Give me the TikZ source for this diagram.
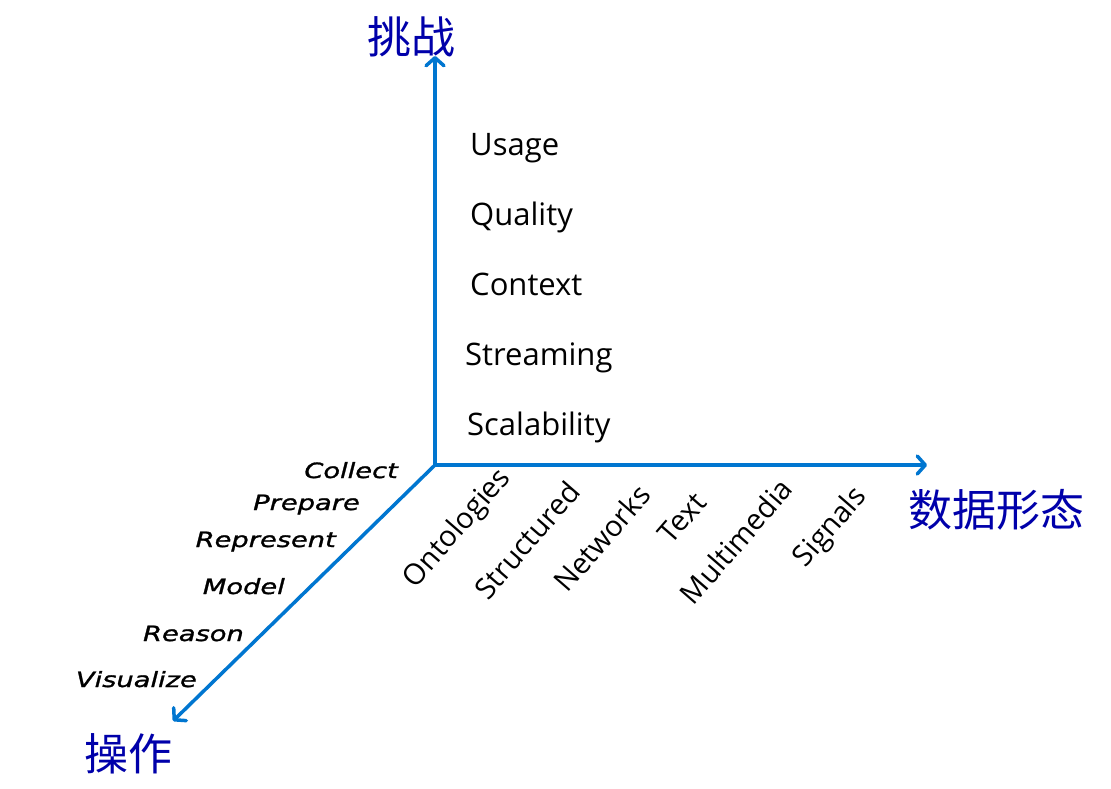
\documentclass[tikz,border=0pt]{standalone}
\usepackage{fontspec}
\setmainfont{Open Sans}
\newfontfamily\cjk{Noto Sans CJK SC}
\newfontfamily\opfont[FakeStretch=1.3,FakeBold=1.3]{DejaVu Sans Oblique}
\usetikzlibrary{arrows.meta}
\definecolor{axisblue}{RGB}{0,118,208}
\definecolor{cjkblue}{RGB}{0,0,170}
\pgfdeclarelayer{bg}
\pgfsetlayers{bg,main}
\tikzset{
  axisline/.style={line width=3.5pt, draw=axisblue, -{Straight Barb[length=8pt,width=18pt,round]}},
  chal/.style={anchor=base west, inner sep=0pt, font=\fontsize{31}{31}\selectfont},
  form/.style={anchor=center, inner sep=0pt, rotate=49, font=\fontsize{29}{29}\selectfont},
  op/.style={anchor=base east, inner sep=0pt, font=\opfont\fontsize{21}{21}\selectfont},
  cjklabel/.style={font=\cjk\fontsize{44}{44}\selectfont, text=cjkblue, inner sep=0pt},
}
% #1 name, #2 position, #3 style, #4 text
\newcommand\shnode[4]{%
  \begin{pgfonlayer}{bg}
    \node[#3, text=black, opacity=.30, shift={(2.5,3)}] (#1-sa) at #2 {#4};
    \node[#3, text=black, opacity=.18, shift={(4,5)}] (#1-sb) at #2 {#4};
  \end{pgfonlayer}
  \node[#3] (#1) at #2 {#4};%
}
\begin{document}
\begin{tikzpicture}[x=1pt,y=-1pt]
\useasboundingbox[fill=white] (0,0) rectangle (1111,788);
\coordinate (O) at (435,465);
\coordinate (top) at (435,56);
\coordinate (right) at (927,465);
\coordinate (diag) at (173,721);
\draw[axisline] (O) -- (top);
\draw[axisline] (O) -- (right);
\draw[axisline] (O) -- (diag);

\node[cjklabel] (chal) at (411,37) {挑战};
\node[cjklabel] (form) at (996,510) {数据形态};
\node[cjklabel] (oper) at (128,754) {操作};

\shnode{usage}{(470,155)}{chal}{Usage}
\shnode{quality}{(470,225)}{chal}{Quality}
\shnode{context}{(470,295)}{chal}{Context}
\shnode{streaming}{(465,365)}{chal}{Streaming}
\shnode{scal}{(467,435)}{chal}{Scalability}

\shnode{onto}{(458,529)}{form}{Ontologies}
\shnode{struct}{(527,540)}{form}{Structured}
\shnode{netw}{(602,538)}{form}{Networks}
\shnode{text}{(682,518)}{form}{Text}
\shnode{multi}{(736,541)}{form}{Multimedia}
\shnode{sig}{(831,528)}{form}{Signals}

\shnode{collect}{(398,478)}{op}{Collect}
\shnode{prepare}{(360,510)}{op}{Prepare}
\shnode{represent}{(336,547)}{op}{Represent}
\shnode{model}{(285,594)}{op}{Model}
\shnode{reason}{(244,641)}{op}{Reason}
\shnode{visual}{(197,687)}{op}{Visualize}
\end{tikzpicture}
\end{document}
